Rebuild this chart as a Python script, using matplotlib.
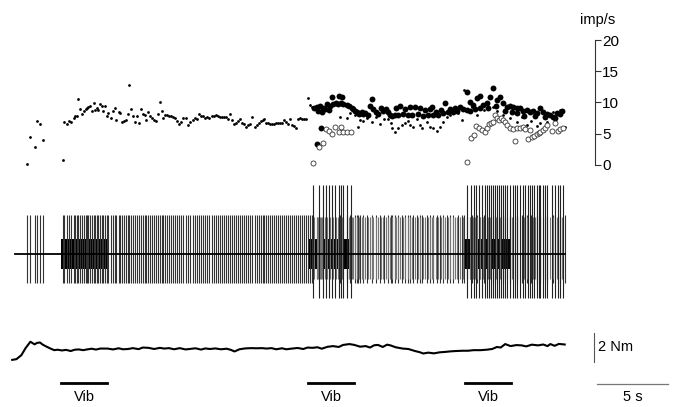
import numpy as np
import matplotlib
matplotlib.use('Agg')
import matplotlib.pyplot as plt

plt.rcParams['font.family'] = ['Liberation Sans', 'DejaVu Sans']

# instantaneous rate (s, imp/s) - small dots
small_dots = [
    (0.82, 0.1), (1.06, 4.4), (1.43, 2.8), (1.57, 7.0), (1.76, 6.5), (1.99, 4.05),
    (3.36, 0.85), (3.47, 6.83), (3.64, 6.6), (3.82, 7.04), (3.94, 6.9), (4.13, 7.47), (4.25, 7.9), (4.39, 7.9), (4.46, 10.6), (4.60, 8.9),
    (4.74, 8.2), (4.86, 8.6), (4.98, 9.0), (5.07, 9.2), (5.16, 9.3), (5.30, 9.4), (5.42, 8.6), (5.54, 9.9), (5.63, 8.85), (5.75, 9.1),
    (5.86, 8.75), (6.01, 9.76), (6.12, 9.5), (6.22, 8.7), (6.34, 9.44), (6.48, 7.84), (6.57, 8.27), (6.74, 7.5), (6.88, 8.7), (7.02, 9.1),
    (7.13, 7.15), (7.30, 8.4), (7.41, 8.27), (7.55, 6.9), (7.67, 7.1), (7.82, 7.25), (7.94, 8.16), (8.03, 12.75), (8.19, 9.0), (8.33, 7.9),
    (8.47, 6.9), (8.59, 7.9), (8.73, 6.67), (8.85, 8.9), (9.01, 8.2), (9.13, 8.0), (9.25, 7.15), (9.39, 8.4), (9.53, 7.8), (9.67, 7.57),
    (9.81, 7.25), (9.95, 7.1), (10.09, 8.2), (10.19, 10.0), (10.33, 8.6), (10.44, 7.5), (10.58, 8.05), (10.73, 7.95), (10.87, 7.9), (11.01, 7.8),
    (11.15, 7.7), (11.29, 7.47), (11.43, 7.1), (11.57, 6.6), (11.71, 6.88), (11.85, 7.57), (12.02, 7.57), (12.20, 6.45), (12.35, 6.88), (12.51, 7.25),
    (12.65, 7.47), (12.80, 7.36), (12.94, 8.1), (13.08, 7.8), (13.22, 7.9), (13.36, 7.57), (13.50, 7.7), (13.64, 7.47), (13.85, 7.8), (13.99, 7.9),
    (14.13, 8.0), (14.27, 7.8), (14.42, 7.7), (14.56, 7.63), (14.70, 7.7), (14.84, 7.63), (14.98, 7.3), (15.12, 8.2), (15.26, 7.15), (15.40, 6.5),
    (15.54, 6.77), (15.68, 7.1), (15.82, 7.4), (15.96, 6.67), (16.11, 6.5), (16.25, 6.13), (16.39, 6.4), (16.53, 6.6), (16.71, 7.7), (16.90, 6.03),
    (17.04, 6.4), (17.18, 6.77), (17.32, 7.1), (17.46, 7.15), (17.56, 7.4), (17.70, 6.77), (17.84, 6.72), (17.98, 6.6), (18.12, 6.6), (18.26, 6.56),
    (18.40, 6.72), (18.54, 6.77), (18.68, 6.67), (18.82, 6.77), (18.96, 7.15), (19.11, 6.93), (19.25, 6.56), (19.39, 7.36), (19.53, 6.4), (19.67, 6.3),
    (19.81, 5.87), (19.95, 7.3), (20.09, 7.47), (20.23, 7.4), (20.37, 7.36), (20.51, 7.4),
    (20.65, 10.67), (20.77, 9.6), (20.92, 9.3), (22.89, 7.7), (23.36, 7.47), (23.59, 8.27), (23.94, 8.0),
    (24.06, 8.27), (24.18, 6.13), (24.30, 7.2), (24.53, 7.0), (24.79, 7.5), (25.14, 6.9), (25.42, 7.6), (25.70, 6.6), (25.99, 7.3),
    (26.29, 7.3), (26.48, 6.67), (26.57, 5.87), (26.76, 5.2), (26.99, 5.87), (27.23, 6.4), (27.46, 6.67), (27.65, 7.04), (27.82, 6.4),
    (28.05, 6.13), (28.29, 7.36), (28.52, 6.4), (28.68, 5.97), (28.99, 6.93), (29.23, 6.13), (29.46, 5.87), (29.70, 5.44), (29.93, 6.13),
    (30.16, 6.93), (30.40, 7.73), (30.63, 8.0), (30.87, 8.64), (31.18, 8.27), (31.46, 7.2), (31.62, 12.0),
    (32.16, 9.23), (32.51, 8.0), (33.03, 8.8), (33.68, 9.33), (33.94, 8.6), (34.39, 8.0), (34.86, 7.5), (35.33, 6.93), (35.70, 7.6),
    (36.04, 6.4), (36.34, 7.0), (36.74, 6.2), (36.97, 6.67), (37.44, 6.93), (37.91, 8.53), (38.38, 8.8), (38.73, 6.13),
]

# second unit - large filled dots
big_dots = [
    (21.27, 3.4), (21.53, 5.9), (21.06, 9.07), (21.25, 9.33), (21.34, 8.7), (21.48, 9.5), (21.62, 8.4), (21.71, 9.07),
    (21.83, 8.9), (21.99, 9.7), (22.11, 8.8), (22.18, 9.5), (22.34, 10.8), (22.42, 9.8), (22.61, 9.9), (22.77, 9.7),
    (22.82, 11.1), (22.94, 9.87), (23.05, 10.9), (23.12, 9.7), (23.36, 9.6), (23.54, 9.44), (23.71, 9.07), (23.82, 8.9),
    (23.94, 8.64), (24.11, 8.5), (24.25, 8.16), (24.42, 8.5), (24.53, 8.1), (24.67, 8.37), (24.84, 8.0), (25.0, 9.5),
    (25.12, 10.56), (25.23, 8.9), (25.42, 8.43), (25.58, 8.1), (25.75, 9.17), (25.94, 8.64), (26.13, 8.9), (26.29, 8.43),
    (26.41, 8.0), (26.58, 7.8), (26.76, 8.0), (26.83, 9.1), (26.99, 8.0), (27.11, 9.5), (27.29, 8.2), (27.46, 9.0),
    (27.64, 8.0), (27.82, 9.3), (27.99, 8.0), (28.17, 9.33), (28.35, 8.1), (28.52, 9.1), (28.70, 7.9), (28.87, 8.8),
    (29.05, 8.0), (29.23, 9.0), (29.35, 9.3), (29.46, 8.0), (29.65, 8.5), (29.82, 8.0), (30.0, 8.8), (30.14, 8.3),
    (30.28, 9.87), (30.46, 8.4), (30.63, 9.0), (30.81, 8.5), (30.99, 9.2), (31.16, 8.7), (31.34, 9.33), (31.57, 9.0),
    (31.81, 11.7), (31.83, 8.8), (32.04, 10.1), (32.04, 8.6), (32.28, 9.6), (32.39, 8.9), (32.51, 10.67), (32.75, 11.1),
    (32.75, 9.2), (32.98, 9.6), (33.22, 9.87), (33.31, 9.1), (33.45, 10.8), (33.68, 12.27), (33.87, 9.5), (33.92, 10.4),
    (34.15, 10.93), (34.39, 9.87), (34.51, 8.6), (34.63, 9.33), (34.86, 9.5), (35.0, 8.4), (35.09, 9.33), (35.33, 9.07),
    (35.35, 8.3), (35.56, 9.07), (35.80, 8.64), (35.85, 7.9), (36.04, 8.8), (36.27, 8.53), (36.50, 8.64), (36.62, 7.8),
    (36.74, 8.27), (36.97, 9.07), (37.21, 8.43), (37.32, 7.6), (37.44, 8.1), (37.68, 8.0), (37.91, 7.73), (38.03, 7.5),
    (38.15, 8.27), (38.38, 8.1), (38.50, 8.64),
]

# third unit - open circles
open_dots = [
    (21.01, 0.27), (21.41, 2.93), (21.71, 3.57), (21.90, 5.7), (22.13, 5.44), (22.30, 4.96), (22.56, 6.13),
    (22.84, 5.23), (22.94, 6.03), (23.12, 5.23), (23.40, 5.3), (23.64, 5.35),
    (31.81, 0.43), (32.09, 4.37), (32.32, 4.8), (32.46, 6.3), (32.68, 5.97), (32.89, 5.6), (33.08, 5.33),
    (33.22, 5.87), (33.40, 6.5), (33.54, 6.67), (33.68, 6.93), (33.82, 8.0), (33.96, 7.47), (34.11, 7.15),
    (34.25, 7.57), (34.39, 7.2), (34.53, 6.93), (34.67, 6.4), (34.86, 5.87), (35.09, 5.7), (35.23, 3.9),
    (35.37, 5.87), (35.56, 5.97), (35.80, 6.03), (35.94, 5.7), (36.15, 4.1), (36.29, 5.6), (36.43, 4.53),
    (36.55, 4.69), (36.74, 4.9), (36.88, 5.07), (36.97, 5.33), (37.16, 5.6), (37.32, 5.87), (37.49, 6.4),
    (37.80, 5.49), (38.03, 6.77), (38.26, 5.44), (38.38, 5.7), (38.57, 5.97),
]

# ankle torque, relative (s, Nm)
torque = [
    (-0.2, -0.75), (0.1, -0.7), (0.45, -0.42), (0.74, 0.06), (1.08, 0.5), (1.25, 0.4), (1.37, 0.32), (1.55, 0.42),
    (1.75, 0.45), (1.95, 0.3), (2.18, 0.18), (2.45, 0.05), (2.76, -0.08), (3.0, -0.05), (3.3, -0.1), (3.6, -0.06),
    (3.92, -0.14), (4.2, -0.05), (4.49, -0.03), (4.8, -0.08), (5.07, -0.03), (5.4, 0.02), (5.7, -0.04), (6.0, 0.03),
    (6.51, 0.03), (6.9, -0.03), (7.3, 0.05), (7.6, -0.02), (7.96, 0.0), (8.3, 0.06), (8.7, -0.01), (9.0, 0.1),
    (9.4, 0.08), (9.8, 0.0), (10.2, 0.08), (10.5, 0.03), (10.85, 0.06), (11.2, -0.02), (11.6, 0.06), (12.0, -0.03),
    (12.29, 0.0), (12.7, 0.05), (13.1, -0.04), (13.4, 0.04), (13.73, 0.0), (14.1, 0.04), (14.5, -0.02), (14.9, 0.02),
    (15.2, -0.06), (15.46, -0.17), (15.8, -0.02), (16.2, 0.04), (16.62, 0.06), (17.0, 0.05), (17.4, 0.06), (17.7, 0.03),
    (18.06, 0.06), (18.4, -0.02), (18.8, 0.05), (19.1, -0.02), (19.51, 0.03), (19.9, 0.07), (20.3, 0.0), (20.6, 0.1),
    (20.95, 0.08), (21.3, 0.12), (21.6, 0.02), (22.0, 0.15), (22.39, 0.2), (22.8, 0.14), (23.1, 0.28), (23.55, 0.34),
    (23.9, 0.28), (24.3, 0.16), (24.7, 0.2), (25.0, 0.1), (25.3, 0.26), (25.56, 0.28), (25.9, 0.14), (26.2, 0.3),
    (26.44, 0.25), (26.8, 0.12), (27.3, 0.03), (27.7, 0.0), (28.17, -0.14), (28.5, -0.22), (28.75, -0.31), (29.1, -0.25),
    (29.5, -0.3), (29.9, -0.23), (30.3, -0.2), (30.7, -0.16), (31.06, -0.14), (31.5, -0.12), (31.9, -0.12), (32.3, -0.08),
    (32.79, -0.08), (33.2, -0.05), (33.6, 0.0), (33.94, 0.14), (34.2, 0.1), (34.52, 0.34), (34.9, 0.2), (35.3, 0.27),
    (35.68, 0.25), (36.0, 0.18), (36.4, 0.3), (36.83, 0.25), (37.2, 0.31), (37.5, 0.2), (37.7, 0.34), (38.0, 0.22),
    (38.3, 0.35), (38.71, 0.31),
]

vib_on = [3.25, 20.6, 31.7]
vib_off = [6.5, 23.9, 34.95]
rate_ticks = [0, 5, 10, 15, 20]

small_t, small_r = zip(*small_dots)
big_t, big_r = zip(*big_dots)
open_t, open_r = zip(*open_dots)
tq_t, tq_v = zip(*torque)

XL = (-1.06, 46.69)
H = 407.0

fig = plt.figure(figsize=(6.78, 4.07), dpi=100)

# --- firing rate ---
ax1 = fig.add_axes([0, 1 - 175 / H, 1, 145 / H])
ax1.set_xlim(XL)
ax1.set_ylim(-1.6, 21.6)
ax1.scatter(small_t, small_r, s=4, color='black', lw=0, clip_on=False)
ax1.scatter(big_t, big_r, s=18, color='black', lw=0, clip_on=False)
ax1.scatter(open_t, open_r, s=13, facecolors='white', edgecolors='#333333', lw=0.6, clip_on=False)
for s in ['top', 'left', 'bottom']:
    ax1.spines[s].set_visible(False)
ax1.spines['right'].set_position(('data', 40.85))
ax1.spines['right'].set_bounds(0, 20)
ax1.spines['right'].set_linewidth(0.8)
ax1.spines['right'].set_color('#333333')
ax1.set_xticks([])
ax1.yaxis.tick_right()
ax1.set_yticks(rate_ticks)
ax1.tick_params(axis='y', length=4, width=0.8, color='#333333', labelsize=11, pad=1)
ax1.text(39.8, 23.2, 'imp/s', fontsize=10.5, va='center', ha='left')
ax1.patch.set_visible(False)

# --- nerve recording ---
ax2 = fig.add_axes([0, 1 - 305 / H, 1, 125 / H])
ax2.set_xlim(XL)
ax2.set_ylim(-1, 1.45)
ax2.axis('off')
ax2.vlines(small_t, -0.57, 0.76, color='#333333', lw=0.8)
ax2.vlines(big_t, -0.5, 0.72, color='#777777', lw=0.8)
ax2.vlines(open_t, -0.86, 1.35, color='#222222', lw=0.8)
ax2.plot([tq_t[0] + 0.2, tq_t[-1]], [0, 0], color='black', lw=1.3)
for on, off in zip(vib_on, vib_off):
    ax2.fill_between([on, off], -0.3, 0.3, color='black', lw=0)

# --- torque, stimulus bars, scale bars ---
ax3 = fig.add_axes([0, 0, 1, 87 / H])
ax3.set_xlim(XL)
ax3.set_ylim(-4, 2)
ax3.axis('off')
ax3.plot(tq_t, tq_v, color='black', lw=1.5)
for on, off in zip(vib_on, vib_off):
    ax3.plot([on, off], [-2.34, -2.34], color='black', lw=2)
    ax3.text((on + off) / 2, -3.3, 'Vib', ha='center', va='center', fontsize=10.5)
ax3.plot([40.77, 40.77], [-0.9, 1.1], color='#555555', lw=0.8)
ax3.text(41.05, 0.15, '2 Nm', ha='left', va='center', fontsize=10.5)
ax3.plot([41.0, 46.0], [-2.41, -2.41], color='#777777', lw=0.9)
ax3.text(43.5, -3.3, '5 s', ha='center', va='center', fontsize=10.5)

fig.savefig('out.png', dpi=100)
